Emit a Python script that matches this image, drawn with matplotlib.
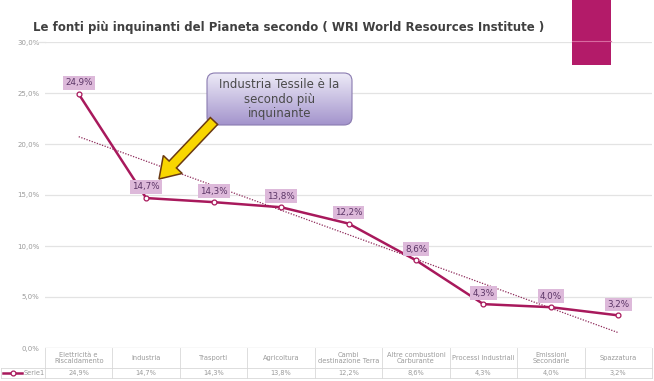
import numpy as np
import matplotlib
matplotlib.use('Agg')
import matplotlib.pyplot as plt
import matplotlib.transforms as mtransforms
from matplotlib.patches import FancyBboxPatch, Rectangle, FancyArrow

# dati del grafico (WRI)
categorie = ['Elettricità e\nRiscaldamento', 'Industria', 'Trasporti', 'Agricoltura',
             'Cambi\ndestinazione Terra', 'Altre combustioni\nCarburante',
             'Processi Industriali', 'Emissioni\nSecondarie', 'Spazzatura']
valori = [24.9, 14.7, 14.3, 13.8, 12.2, 8.6, 4.3, 4.0, 3.2]
etichette = ['24,9%', '14,7%', '14,3%', '13,8%', '12,2%', '8,6%', '4,3%', '4,0%', '3,2%']
y_ticks = [0, 5, 10, 15, 20, 25, 30]
y_tick_labels = ['0,0%', '5,0%', '10,0%', '15,0%', '20,0%', '25,0%', '30,0%']

W, H = 654, 381
LINE = '#A8195C'
GRID = '#E3E3E3'
TXT_LIGHT = '#9A9A9A'

fig = plt.figure(figsize=(W / 100, H / 100), dpi=100)
fig.patch.set_facecolor('white')

left, right, top, bottom = 45, 652, 42, 348
ax = fig.add_axes([left / W, 1 - bottom / H, (right - left) / W, (bottom - top) / H])
n = len(valori)
x = np.arange(n)
ax.set_xlim(-0.5, n - 0.5)
ax.set_ylim(0, 30)
for s in ax.spines.values():
    s.set_visible(False)
ax.set_xticks([])
ax.set_yticks(y_ticks)
ax.set_yticklabels(y_tick_labels, fontsize=5, color=TXT_LIGHT)
ax.tick_params(axis='y', length=0, pad=4)
ax.grid(axis='y', color=GRID, linewidth=0.9)
ax.set_axisbelow(True)
ax.axhline(0, color='#D0D0D0', linewidth=0.8)

# linea di tendenza (lineare)
coef = np.polyfit(x, valori, 1)
ax.plot(x, np.polyval(coef, x), linestyle=(0, (1, 1.2)), color='#8E2A5A', linewidth=0.9, zorder=2)

# serie
ax.plot(x, valori, color=LINE, linewidth=1.8, marker='o', markersize=3.5,
        markerfacecolor='white', markeredgecolor=LINE, markeredgewidth=0.9, zorder=3)

for xi, v, lab in zip(x, valori, etichette):
    ax.annotate(lab, (xi, v), xytext=(0, 8), textcoords='offset points',
                ha='center', va='center', fontsize=6.3, color='#5B3566',
                bbox=dict(boxstyle='square,pad=0.25', facecolor='#DDB9DA', edgecolor='none'),
                zorder=4)

# tabella dati sotto il grafico
trans = mtransforms.blended_transform_factory(ax.transData, ax.transAxes)
plot_h = bottom - top
row1_bot = -(368 - bottom) / plot_h
row2_bot = -(378 - bottom) / plot_h
for i in range(n + 1):
    ax.plot([i - 0.5, i - 0.5], [0, row2_bot], transform=trans, color='#D8D8D8',
            linewidth=0.6, clip_on=False)
ax.plot([-0.5, n - 0.5], [row1_bot, row1_bot], transform=trans, color='#D8D8D8',
        linewidth=0.6, clip_on=False)
ax.plot([-0.5, n - 0.5], [row2_bot, row2_bot], transform=trans, color='#D8D8D8',
        linewidth=0.6, clip_on=False)
for xi, cat, lab in zip(x, categorie, etichette):
    ax.text(xi, row1_bot / 2, cat, transform=trans, ha='center', va='center',
            fontsize=4.8, color=TXT_LIGHT, linespacing=1.1)
    ax.text(xi, (row1_bot + row2_bot) / 2, lab, transform=trans, ha='center', va='center',
            fontsize=4.8, color=TXT_LIGHT)

# livello in pixel per titolo, riquadro e freccia
ov = fig.add_axes([0, 0, 1, 1], facecolor='none')
ov.set_xlim(0, W)
ov.set_ylim(H, 0)
ov.axis('off')

# chiave legenda nella tabella
ov.plot([1, 45], [368, 368], color='#D8D8D8', linewidth=0.6)
ov.plot([1, 45], [378, 378], color='#D8D8D8', linewidth=0.6)
ov.plot([1, 1], [368, 378], color='#D8D8D8', linewidth=0.6)
ov.plot([3, 22], [373, 373], color=LINE, linewidth=1.8)
ov.plot([12.5], [373], marker='o', markersize=3.5, markerfacecolor='white',
        markeredgecolor=LINE, markeredgewidth=0.9)
ov.text(24, 373, 'Serie1', fontsize=4.8, color=TXT_LIGHT, va='center', ha='left')
ov.plot([33, 45], [42, 42], color=GRID, linewidth=0.9)

ov.text(33, 27, 'Le fonti più inquinanti del Pianeta secondo ( WRI World Resources Institute )',
        fontsize=8.5, fontweight='bold', color='#404040', va='center', ha='left')
ov.add_patch(Rectangle((572, 0), 39, 65, facecolor='#B31B69', edgecolor='none'))
ov.plot([572, 611], [41, 41], color='#D86AA0', linewidth=0.8)

# riquadro con gradiente
bx0, by0, bx1, by1 = 207, 73, 352, 125
box = FancyBboxPatch((bx0, by0), bx1 - bx0, by1 - by0,
                     boxstyle='round,pad=0,rounding_size=8',
                     facecolor='none', edgecolor='#8A7BB0', linewidth=0.8, zorder=6)
ov.add_patch(box)
grad = np.linspace(0, 1, 100).reshape(-1, 1)
top_c = np.array([0.93, 0.92, 0.97])
bot_c = np.array([0.64, 0.58, 0.80])
img = top_c + grad[..., None] * (bot_c - top_c)
im = ov.imshow(img, extent=(bx0, bx1, by1, by0), aspect='auto', zorder=5)
im.set_clip_path(box)
ov.set_xlim(0, W)
ov.set_ylim(H, 0)
ov.text((bx0 + bx1) / 2, 99, 'Industria Tessile è la\nsecondo più\ninquinante',
        ha='center', va='center', fontsize=8.5, color='#4A4A4A', linespacing=1.15, zorder=7)

# freccia gialla
ov.add_patch(FancyArrow(214, 121, 159 - 214, 179 - 121, width=10, head_width=26,
                        head_length=20, length_includes_head=True,
                        facecolor='#F8D600', edgecolor='#6A3A12', linewidth=1.1, zorder=6))

fig.savefig('out.png', dpi=100)
